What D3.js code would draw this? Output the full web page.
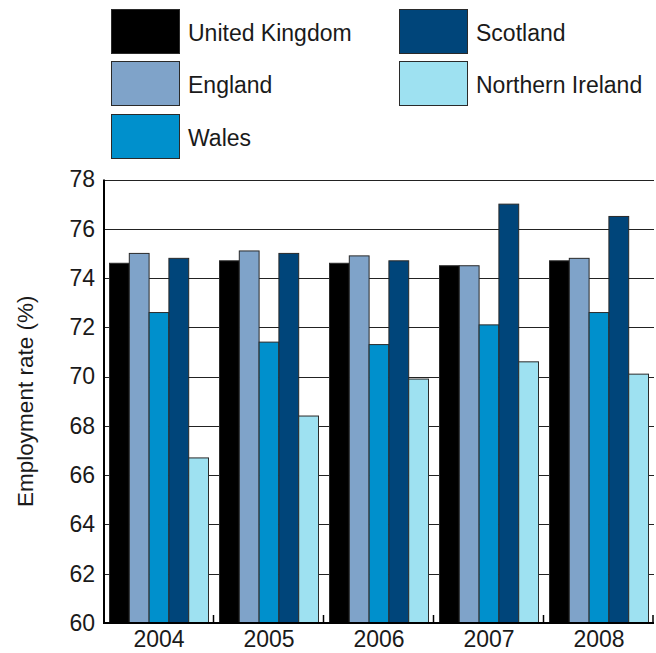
<!DOCTYPE html>
<html><head><meta charset="utf-8">
<script src="https://cdn.jsdelivr.net/npm/d3@7"></script>
<style>body{margin:0;background:#fff}svg{display:block}text{font-family:"Liberation Sans",Arial,sans-serif;fill:#1a1a1a}</style>
</head><body><svg id="c" width="656" height="653"></svg>
<script>
const years = ["2004","2005","2006","2007","2008"];
const seriesNames = ["United Kingdom","England","Wales","Scotland","Northern Ireland"];
const seriesColors = ["#000000","#7fa3c9","#0090cc","#00457a","#9ee1f1"];
const ukValues = [74.6,74.7,74.6,74.5,74.7];
const englandValues = [75.0,75.1,74.9,74.5,74.8];
const walesValues = [72.6,71.4,71.3,72.1,72.6];
const scotlandValues = [74.8,75.0,74.7,77.0,76.5];
const niValues = [66.7,68.4,69.9,70.6,70.1];
const yTicks = [60,62,64,66,68,70,72,74,76,78];
const allValues = [ukValues,englandValues,walesValues,scotlandValues,niValues];

const svg = d3.select("#c");
const L=104, R=654, T=179.5, B=623;
const FONT = "'Liberation Sans',Arial,sans-serif";
const x = d3.scaleBand().domain(years).range([L,R]).paddingInner(0).paddingOuter(0);
const xi = d3.scaleBand().domain(seriesNames).range([5.5, x.bandwidth()-5.5]).padding(0);
const y = d3.scaleLinear().domain([60,78]).range([B,T]);

// gridlines
svg.append("g").selectAll("line").data(yTicks.filter(d=>d>60)).join("line")
  .attr("x1",L).attr("x2",R).attr("y1",d=>Math.round(y(d))+0.5).attr("y2",d=>Math.round(y(d))+0.5)
  .attr("stroke","#222").attr("stroke-width",1);

// bars
const g = svg.append("g");
years.forEach((yr,i)=>{
  seriesNames.forEach((s,j)=>{
    const v = allValues[j][i];
    g.append("rect")
      .attr("x", x(yr)+xi(s))
      .attr("y", y(v))
      .attr("width", xi.bandwidth())
      .attr("height", B - y(v))
      .attr("fill", seriesColors[j])
      .attr("stroke","#2a2a2a").attr("stroke-width",1);
  });
});

// y axis
const yAxis = d3.axisLeft(y).tickValues(yTicks).tickSize(0).tickPadding(9);
const ya = svg.append("g").attr("transform",`translate(${L},0)`).call(yAxis);
ya.select(".domain").remove();
ya.selectAll("text").attr("font-size",23).style("font-family",FONT).attr("fill","#1a1a1a");
svg.append("line").attr("x1",L).attr("x2",L).attr("y1",T).attr("y2",B+1).attr("stroke","#000").attr("stroke-width",2);

// x axis
const xAxis = d3.axisBottom(x).tickSize(0).tickPadding(8);
const xa = svg.append("g").attr("transform",`translate(0,${B})`).call(xAxis);
xa.select(".domain").remove();
xa.selectAll("text").attr("font-size",23).style("font-family",FONT).attr("fill","#1a1a1a");
svg.append("line").attr("x1",L-1).attr("x2",R).attr("y1",B).attr("y2",B).attr("stroke","#000").attr("stroke-width",2);
// boundary ticks
svg.append("g").selectAll("line").data(years.slice(1).concat(["end"])).join("line")
  .attr("x1",d=>d==="end"?R-1:x(d)-0.5).attr("x2",d=>d==="end"?R-1:x(d)-0.5)
  .attr("y1",B-8).attr("y2",B).attr("stroke","#000").attr("stroke-width",1.5);

// y label
svg.append("text").attr("transform",`translate(33,${(T+B)/2}) rotate(-90)`)
  .attr("text-anchor","middle").attr("font-size",22.5).text("Employment rate (%)");

// legend
const legendPos = [[111,9],[111,61],[111,114],[399,9],[399,61]];
const lg = svg.append("g");
seriesNames.forEach((s,j)=>{
  const [lx,ly]=legendPos[j];
  lg.append("rect").attr("x",lx+0.5).attr("y",ly+0.5).attr("width",68).attr("height",44)
    .attr("fill",seriesColors[j]).attr("stroke","#2a2a2a").attr("stroke-width",1);
  lg.append("text").attr("x",lx+77).attr("y",ly+31.5).attr("font-size",23).text(s);
});
</script></body></html>
